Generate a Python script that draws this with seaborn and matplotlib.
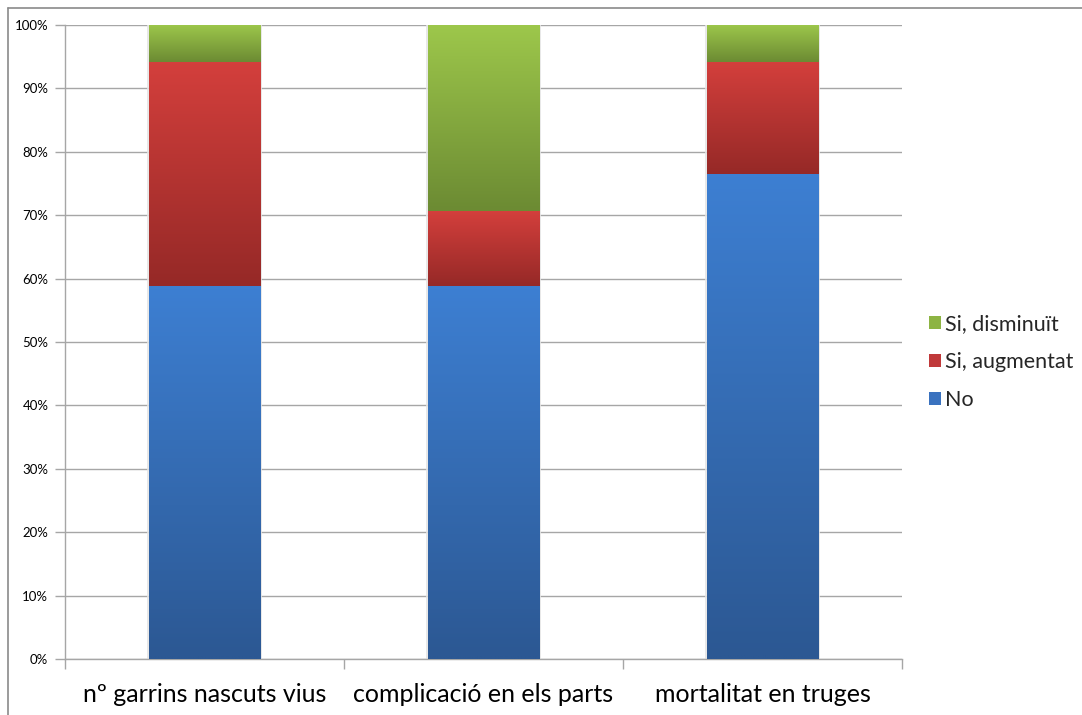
"""Stacked 100% bar chart: changes observed in farrowing."""
import matplotlib
matplotlib.use("Agg")
import matplotlib.pyplot as plt
from matplotlib.lines import Line2D
from matplotlib.patches import Patch
from matplotlib.ticker import FuncFormatter, FixedLocator
import numpy as np
import pandas as pd
import seaborn as sns

# Data (shares of answers)
categories = ["nº garrins nascuts vius", "complicació en els parts", "mortalitat en truges"]
series_names = ["No", "Si, augmentat", "Si, disminuït"]
no_vals = [0.588, 0.588, 0.765]
up_vals = [0.353, 0.118, 0.176]
down_vals = [0.059, 0.294, 0.059]

# (top colour, bottom colour) of the Excel-like gradient
grad_colors = {
  "No": ("#3d7fd2", "#2c5893"),
  "Si, augmentat": ("#d33f3c", "#962927"),
  "Si, disminuït": ("#9dc74b", "#6c8b33"),
}
legend_colors = {"No": "#3a72bf", "Si, augmentat": "#c0393a", "Si, disminuït": "#8db443"}


def to_percentage(value: float, _) -> str:
  """Convert value to percentage."""
  return f"{100 * value:.0f}%"


sns.set_style("white")
plt.rcParams["font.family"] = ["Lato", "DejaVu Sans"]

df = pd.DataFrame({
  "category": categories,
  "No": no_vals,
  "Si, augmentat": up_vals,
  "Si, disminuït": down_vals,
})
cum = df[series_names].cumsum(axis=1)

fig = plt.figure(figsize=(10.82, 7.15), dpi=100)
ax = fig.add_axes([65 / 1082, 1 - 659 / 715, (902 - 65) / 1082, (659 - 25) / 715])

# Draw cumulative bars, tallest first
bar_width = 0.4
for name in reversed(series_names):
  sns.barplot(
    data=cum.assign(category=categories),
    x="category",
    y=name,
    color=legend_colors[name],
    width=bar_width,
    linewidth=0,
    ax=ax,
    zorder=2,
  )

# Replace flat fills by vertical gradients per segment
for patch in ax.patches:
  patch.set_alpha(0)

for i in range(len(categories)):
  lower = 0.0
  for name in series_names:
    upper = cum.loc[i, name]
    top, bottom = grad_colors[name]
    c_top = np.array(matplotlib.colors.to_rgb(top))
    c_bot = np.array(matplotlib.colors.to_rgb(bottom))
    t = np.linspace(0, 1, 64)[:, None]
    grad = (c_top * (1 - t) + c_bot * t)[:, None, :]
    ax.imshow(
      grad,
      extent=(i - bar_width / 2, i + bar_width / 2, lower, upper),
      aspect="auto",
      interpolation="bilinear",
      origin="upper",
      zorder=3,
    )
    lower = upper
  # faint shadow
  ax.add_patch(matplotlib.patches.Rectangle(
    (i - bar_width / 2 - 0.004, 0), bar_width + 0.008, 1.0,
    facecolor="none", edgecolor="#e4e4e4", linewidth=1.2, zorder=2.5))

# Axes formatting
ax.set_xlim(-0.5, len(categories) - 0.5)
ax.set_ylim(0, 1)
ax.set_xlabel("")
ax.set_ylabel("")
ax.yaxis.set_major_locator(FixedLocator(np.linspace(0, 1, 11)))
ax.yaxis.set_major_formatter(FuncFormatter(to_percentage))
ax.grid(axis="y", color="#a6a6a6", linewidth=1, zorder=0)
ax.set_axisbelow(True)

ax.set_xticks(range(len(categories)))
ax.set_xticklabels(categories, fontsize=18, color="#000000")
ax.set_xticks(np.arange(-0.5, len(categories), 1), minor=True)
ax.tick_params(axis="x", which="major", length=0, pad=17)
ax.tick_params(axis="x", which="minor", length=7, color="#a6a6a6", width=1, direction="out", bottom=True)
ax.tick_params(axis="y", length=7, color="#a6a6a6", width=1, direction="out", left=True,
               labelsize=9.5, pad=5, labelcolor="#000000")

for side in ["top", "right"]:
  ax.spines[side].set_visible(False)
for side in ["left", "bottom"]:
  ax.spines[side].set_color("#a6a6a6")
  ax.spines[side].set_linewidth(1)

# Legend
handles = [Patch(facecolor=legend_colors[n], edgecolor="none") for n in reversed(series_names)]
fig.legend(
  handles,
  list(reversed(series_names)),
  loc="center left",
  bbox_to_anchor=(929 / 1082, 1 - 362 / 715),
  frameon=False,
  fontsize=15.5,
  handlelength=0.55,
  handleheight=0.55,
  handletextpad=0.2,
  labelspacing=0.85,
  borderpad=0,
  borderaxespad=0,
)

# Outer chart frame (left and top only visible)
fig.add_artist(Line2D([8 / 1082, 8 / 1082], [0, 1 - 8 / 715], transform=fig.transFigure,
                      color="#8a8a8a", linewidth=1.2))
fig.add_artist(Line2D([8 / 1082, 1], [1 - 8 / 715, 1 - 8 / 715], transform=fig.transFigure,
                      color="#8a8a8a", linewidth=1.2))

fig.savefig("out.png", dpi=100)
